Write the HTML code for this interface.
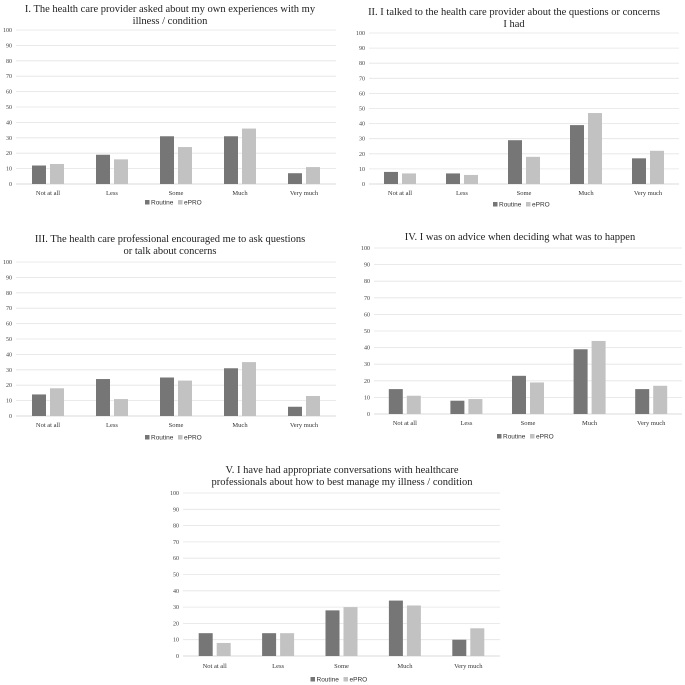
<!DOCTYPE html>
<html><head><meta charset="utf-8">
<style>
html,body{margin:0;padding:0;background:#fff;}
svg{display:block;}
.t{font-family:"Liberation Serif",serif;font-size:10.5px;fill:#222;}
.tick{font-family:"Liberation Serif",serif;font-size:6px;fill:#444;}
.cat{font-family:"Liberation Serif",serif;font-size:6.5px;fill:#333;}
.leg{font-family:"Liberation Sans",sans-serif;font-size:6.5px;fill:#333;}
</style></head>
<body>
<svg id="svg" width="685" height="685" viewBox="0 0 685 685" xmlns="http://www.w3.org/2000/svg"></svg>
<script>
const categories = ["Not at all","Less","Some","Much","Very much"];
const yTicks = [0,10,20,30,40,50,60,70,80,90,100];
const routineI = [12,19,31,31,7];
const eproI = [13,16,24,36,11];
const routineII = [8,7,29,39,17];
const eproII = [7,6,18,47,22];
const routineIII = [14,24,25,31,6];
const eproIII = [18,11,23,35,13];
const routineIV = [15,8,23,39,15];
const eproIV = [11,9,19,44,17];
const routineV = [14,14,28,34,10];
const eproV = [8,14,30,31,17];

const svg = document.getElementById('svg');
const NS = 'http://www.w3.org/2000/svg';
function mk(tag, attrs, parent){
  const e = document.createElementNS(NS, tag);
  for (const k in attrs) e.setAttribute(k, attrs[k]);
  parent.appendChild(e); return e;
}
const panels = [
  {id:'i', title:["I. The health care provider asked about my own experiences with my","illness / condition"], tx:170, ty:[9,21], L:16, R:336, y100:30, y0:184, lab:193, leg:203, r:routineI, e:eproI},
  {id:'ii', title:["II. I talked to the health care provider about the questions or concerns","I had"], tx:514, ty:[12,24], L:369, R:679, y100:33, y0:184, lab:193, leg:205, r:routineII, e:eproII},
  {id:'iii', title:["III. The health care professional encouraged me to ask questions","or talk about concerns"], tx:170, ty:[239,251], L:16, R:336, y100:262, y0:416, lab:425, leg:438, r:routineIII, e:eproIII},
  {id:'iv', title:["IV. I was on advice when deciding what was to happen"], tx:520, ty:[237], L:374, R:682, y100:248, y0:414, lab:423, leg:437, r:routineIV, e:eproIV},
  {id:'v', title:["V. I have had appropriate conversations with healthcare","professionals about how to best manage my illness / condition"], tx:342, ty:[470,482], L:183, R:500, y100:493, y0:656, lab:666, leg:680, r:routineV, e:eproV}
];
panels.forEach(p=>{
  const g = mk('g',{},svg);
  
  
  const y = v => p.y0 + (p.y100 - p.y0) * v / 100;
  const step = (p.R - p.L) / categories.length;
  const cx = i => p.L + (i + 0.5) * step;
  p.title.forEach((line,k)=>{
    const t = mk('text',{x:p.tx, y:p.ty[k]+3, 'text-anchor':'middle', class:'t'}, g);
    
    
    t.textContent = line;
  });
  yTicks.forEach(v=>{
    const ln = mk('line',{x1:p.L, x2:p.R, y1:y(v), y2:y(v), stroke: v===0?'#cfcfcf':'#e4e4e4', 'stroke-width':0.8}, g);
    
    
    const t = mk('text',{x:p.L-4, y:y(v)+2, 'text-anchor':'end', class:'tick'}, g);
    
    
    t.textContent = v;
  });
  const bw = 14, gap = 4;
  categories.forEach((c,i)=>{
    const b1 = mk('rect',{x:cx(i)-gap/2-bw, y:y(p.r[i]), width:bw, height:p.y0-y(p.r[i]), fill:'#767676'}, g);
    
    
    const b2 = mk('rect',{x:cx(i)+gap/2, y:y(p.e[i]), width:bw, height:p.y0-y(p.e[i]), fill:'#c2c2c2'}, g);
    
    
    const t = mk('text',{x:cx(i), y:p.lab+2, 'text-anchor':'middle', class:'cat'}, g);
    
    
    t.textContent = c;
  });
  const mid = (p.L + p.R) / 2;
  const lg = mk('g',{},g);
  
  
  mk('rect',{x:mid-31, y:p.leg-3, width:4.5, height:4.5, fill:'#767676'}, lg);
  const t1 = mk('text',{x:mid-25, y:p.leg+1.5, class:'leg'}, lg);
  
  
  t1.textContent = 'Routine';
  mk('rect',{x:mid+2, y:p.leg-3, width:4.5, height:4.5, fill:'#c2c2c2'}, lg);
  const t2 = mk('text',{x:mid+8, y:p.leg+1.5, class:'leg'}, lg);
  
  
  t2.textContent = 'ePRO';
});
</script>
</body></html>
